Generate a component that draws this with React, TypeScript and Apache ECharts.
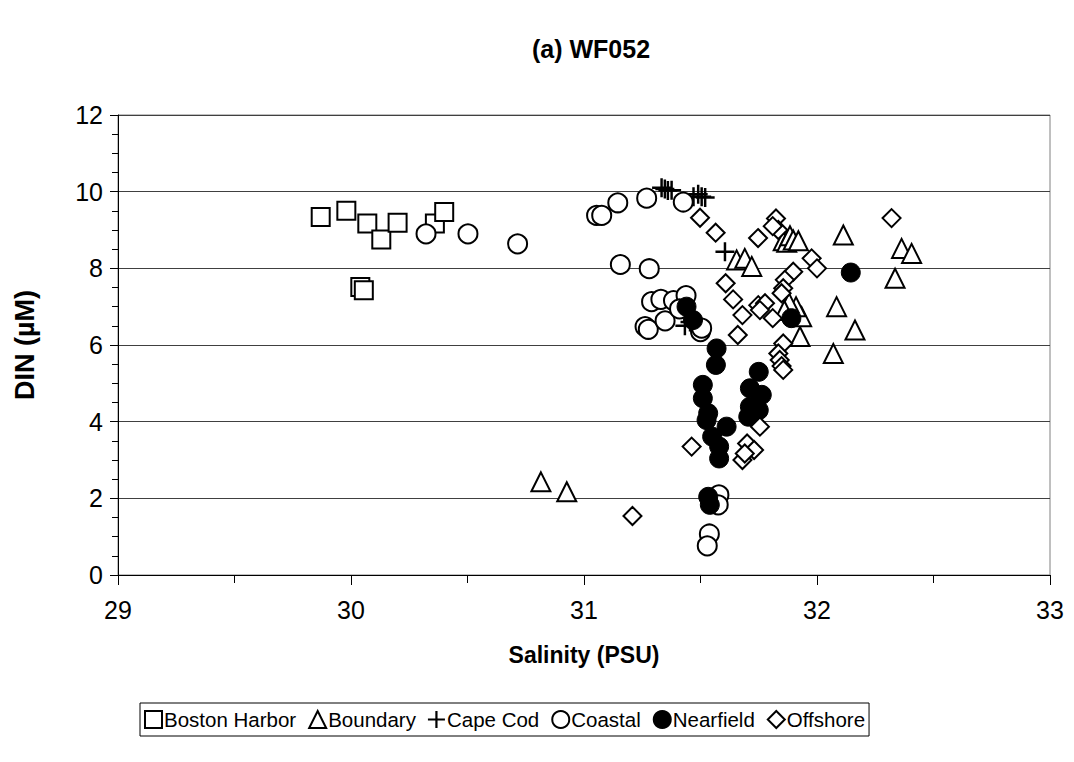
import React, { useEffect, useRef } from "react";
import * as echarts from "echarts";

const bostonHarbor: number[][] = [
  [29.87, 9.34], [29.98, 9.5], [30.07, 9.17], [30.13, 8.75], [30.2, 9.19],
  [30.36, 9.17], [30.4, 9.47], [30.04, 7.51], [30.055, 7.43],
];
const boundary: number[][] = [
  [30.815, 2.43], [30.926, 2.17], [31.655, 8.22], [31.69, 8.26], [31.72, 8.05],
  [31.855, 8.72], [31.87, 8.68], [31.884, 8.85], [31.898, 8.74], [31.92, 8.72],
  [32.113, 8.87], [32.363, 8.52], [32.406, 8.39], [32.335, 7.74], [32.084, 7.0],
  [32.163, 6.39], [32.07, 5.78], [31.927, 6.22], [31.934, 6.74], [31.91, 7.0],
  [31.88, 7.1], [31.86, 6.9],
];
const capeCod: number[][] = [
  [31.333, 10.1], [31.347, 10.07], [31.36, 10.03], [31.376, 10.04],
  [31.47, 9.87], [31.49, 9.93], [31.505, 9.87], [31.52, 9.85],
  [31.605, 8.43], [31.433, 6.5], [31.455, 6.6],
];
const coastal: number[][] = [
  [30.322, 8.9], [30.502, 8.9], [30.715, 8.64], [31.054, 9.38], [31.076, 9.38],
  [31.145, 9.71], [31.269, 9.83], [31.426, 9.73], [31.156, 8.1], [31.28, 7.99],
  [31.29, 7.13], [31.33, 7.19], [31.384, 7.16], [31.438, 7.29], [31.262, 6.48],
  [31.276, 6.41], [31.348, 6.63], [31.41, 6.94], [31.5, 6.35], [31.505, 6.44],
  [31.579, 2.09], [31.576, 1.83], [31.538, 1.07], [31.529, 0.76],
];
const nearfield: number[][] = [
  [31.44, 7.0], [31.468, 6.65], [31.569, 5.91], [31.566, 5.48], [31.51, 4.96],
  [31.51, 4.61], [31.533, 4.22], [31.526, 4.04], [31.612, 3.87], [31.55, 3.61],
  [31.58, 3.35], [31.58, 3.04], [31.75, 5.3], [31.712, 4.87], [31.763, 4.7],
  [31.712, 4.39], [31.705, 4.13], [31.75, 4.3], [31.533, 2.04], [31.54, 1.83],
  [32.145, 7.89], [31.89, 6.7],
];
const offshore: number[][] = [
  [31.498, 9.32], [31.565, 8.93], [31.608, 7.61], [31.64, 7.19], [31.68, 6.78],
  [31.66, 6.26], [31.747, 8.79], [31.824, 9.3], [31.834, 9.0], [31.81, 9.1],
  [32.32, 9.31], [31.977, 8.26], [32.0, 8.0], [31.898, 7.91], [31.862, 7.7],
  [31.855, 7.48], [31.848, 7.35], [31.748, 7.04], [31.777, 7.09], [31.755, 6.91],
  [31.81, 6.7], [31.855, 6.04], [31.834, 5.78], [31.84, 5.61], [31.848, 5.45],
  [31.855, 5.35], [31.755, 3.87], [31.7, 3.43], [31.73, 3.26], [31.68, 3.0],
  [31.69, 3.17], [31.208, 1.54], [31.462, 3.35],
];

const FONT = "'Liberation Sans', Arial, sans-serif";
const PLUS = "path://M-1.3,-10 H1.3 V-1.3 H10 V1.3 H1.3 V10 H-1.3 V1.3 H-10 V-1.3 H-1.3 Z";

export default function App() {
  const ref = useRef<HTMLDivElement>(null);
  useEffect(() => {
    if (!ref.current) return;
    const chart = echarts.init(ref.current, null, { renderer: "svg" });
    const hollow = (name: string, data: number[][], symbol: string, size: number) => ({
      name,
      type: "scatter",
      data,
      symbol,
      symbolSize: size,
      itemStyle: { color: "#fff", borderColor: "#000", borderWidth: 2, opacity: 1 },
    });
    chart.setOption({
      animation: false,
      textStyle: { fontFamily: FONT, color: "#000" },
      title: {
        text: "(a) WF052",
        left: 586,
        textAlign: "center",
        top: 31,
        textStyle: { fontFamily: FONT, fontSize: 25, fontWeight: "bold", color: "#000" },
      },
      grid: {
        left: 118,
        right: 24,
        top: 115,
        bottom: 187,
        show: true,
        borderColor: "#808080",
        borderWidth: 1,
      },
      xAxis: {
        type: "value",
        min: 29,
        max: 33,
        interval: 1,
        name: "Salinity (PSU)",
        nameLocation: "middle",
        nameGap: 68,
        nameTextStyle: { fontFamily: FONT, fontSize: 23, fontWeight: "bold", color: "#000" },
        axisLine: { show: true, lineStyle: { color: "#000", width: 1 } },
        axisTick: { show: true, length: 10, lineStyle: { color: "#000" } },
        minorTick: { show: true, splitNumber: 2, length: 8, lineStyle: { color: "#000" } },
        axisLabel: { fontFamily: FONT, fontSize: 25, color: "#000", margin: 22 },
        splitLine: { show: false },
      },
      yAxis: {
        type: "value",
        min: 0,
        max: 12,
        interval: 2,
        name: "DIN (µM)",
        nameLocation: "middle",
        nameGap: 80,
        nameTextStyle: { fontFamily: FONT, fontSize: 27, fontWeight: "bold", color: "#000" },
        axisLine: { show: true, lineStyle: { color: "#000", width: 1 } },
        axisTick: { show: true, length: 8, lineStyle: { color: "#000" } },
        minorTick: { show: true, splitNumber: 4, length: 6, lineStyle: { color: "#000" } },
        axisLabel: { fontFamily: FONT, fontSize: 25, color: "#000", margin: 15 },
        splitLine: { show: true, lineStyle: { color: "#404040", width: 1 } },
      },
      legend: {
        left: 140,
        bottom: 26,
        orient: "horizontal",
        borderColor: "#000",
        borderWidth: 1,
        borderRadius: 0,
        padding: [6, 4, 6, 4],
        itemGap: 12,
        itemWidth: 17,
        itemHeight: 17,
        textStyle: { fontFamily: FONT, fontSize: 20.5, color: "#000", padding: [0, 0, 0, -3] },
        data: ["Boston Harbor", "Boundary", "Cape Cod", "Coastal", "Nearfield", "Offshore"],
      },
      series: [
        hollow("Boston Harbor", bostonHarbor, "rect", 18),
        hollow("Boundary", boundary, "triangle", 19),
        {
          name: "Cape Cod",
          type: "scatter",
          data: capeCod,
          symbol: PLUS,
          symbolSize: 19,
          itemStyle: { color: "#000", opacity: 1 },
        },
        hollow("Coastal", coastal, "circle", 19),
        {
          name: "Nearfield",
          type: "scatter",
          data: nearfield,
          symbol: "circle",
          symbolSize: 19,
          itemStyle: { color: "#000", borderColor: "#000", borderWidth: 1, opacity: 1 },
        },
        hollow("Offshore", offshore, "diamond", 18),
      ],
    });
    return () => chart.dispose();
  }, []);
  return <div ref={ref} style={{ width: 1074, height: 762, position: "absolute", left: 0, top: 0 }} />;
}
